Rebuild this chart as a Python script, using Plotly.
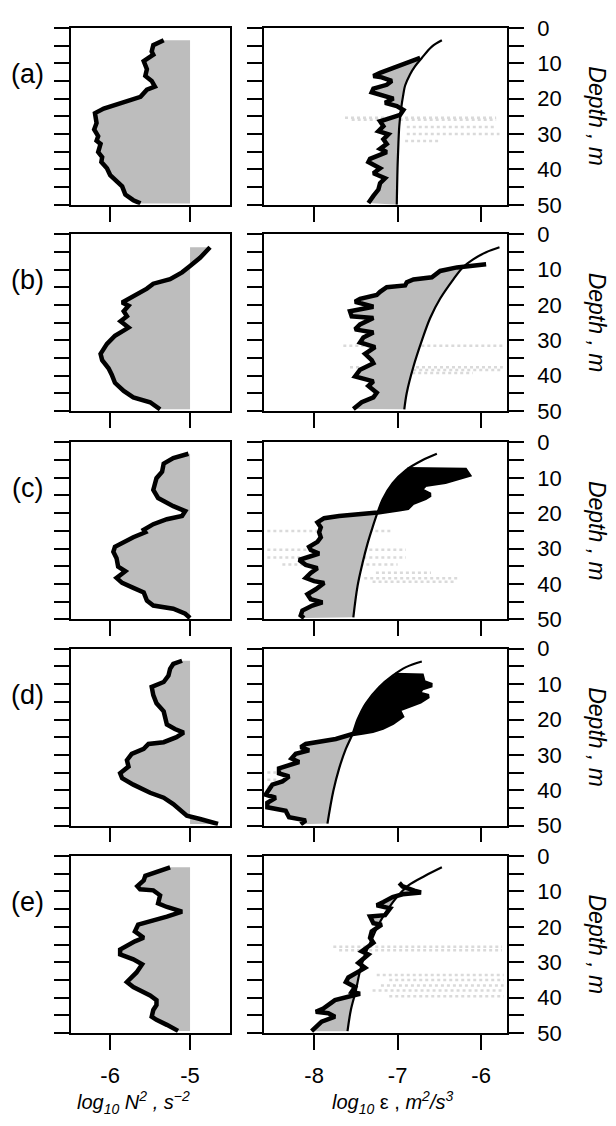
import plotly.graph_objects as go

# ---------------- data ----------------
PANEL_LABELS = ["(a)", "(b)", "(c)", "(d)", "(e)"]
N2_TICKS = [-6, -5]
N2_TICKTEXT = ["-6", "-5"]
EPS_TICKS = [-8, -7, -6]
EPS_TICKTEXT = ["-8", "-7", "-6"]
DEPTH_TICKS = [0, 5, 10, 15, 20, 25, 30, 35, 40, 45, 50]
DEPTH_TICKTEXT = ["0", "", "10", "", "20", "", "30", "", "40", "", "50"]
N2_REF = -5.0  # shading reference for log10 N^2

# log10 N^2 profiles
n2_a_depth = [3.5, 4.9, 6.7, 7.6, 9.4, 11.7, 13.6, 15.0, 16.6, 17.5, 19.5, 21.4, 22.8, 24.1, 26.9, 28.7, 30.6, 31.9,
              32.8, 35.1, 36.5, 37.9, 39.7, 41.6, 43.4, 44.8, 47.1, 48.7, 49.6]
n2_a = [-5.33, -5.46, -5.48, -5.46, -5.58, -5.54, -5.56, -5.48, -5.44, -5.54, -5.62, -5.87, -6.08, -6.19, -6.17, -6.20,
        -6.15, -6.17, -6.12, -6.15, -6.10, -6.11, -6.04, -6.00, -5.92, -5.85, -5.81, -5.71, -5.62]

n2_b_depth = [3.7, 5.3, 6.7, 9.0, 10.8, 12.7, 14.0, 15.4, 17.7, 19.3, 20.2, 21.8, 23.2, 24.6, 26.4, 28.7, 31.0, 33.8,
              35.6, 37.9, 39.7, 42.0, 44.3, 46.1, 47.5, 49.5]
n2_b = [-4.75, -4.81, -4.875, -5.0, -5.10, -5.25, -5.46, -5.54, -5.71, -5.85, -5.77, -5.83, -5.79, -5.87, -5.77, -5.94,
        -6.04, -6.12, -6.10, -6.02, -5.98, -5.94, -5.83, -5.71, -5.50, -5.375]

n2_c_depth = [3.2, 4.4, 6.0, 8.3, 10.1, 13.4, 15.7, 18.0, 19.4, 20.8, 21.7, 23.1, 24.7, 25.4, 26.8, 28.1, 29.5, 30.9,
              32.7, 35.1, 36.4, 38.3, 39.7, 41.1, 42.4, 44.7, 46.1, 47.0, 48.4, 49.6]
n2_c = [-5.02, -5.21, -5.33, -5.35, -5.42, -5.46, -5.40, -5.21, -5.06, -5.10, -5.29, -5.46, -5.58, -5.56, -5.71, -5.83,
        -5.94, -5.96, -5.92, -5.90, -5.81, -5.92, -5.85, -5.71, -5.58, -5.54, -5.46, -5.21, -5.06, -5.0]

n2_d_depth = [3.4, 4.3, 5.7, 7.6, 9.4, 10.8, 13.1, 15.4, 17.7, 21.4, 22.7, 23.7, 25.0, 26.4, 26.9, 28.3, 29.7, 31.5,
              33.3, 35.2, 36.6, 38.4, 40.7, 42.1, 43.9, 46.2, 47.2, 48.1, 49.5]
n2_d = [-5.10, -5.21, -5.25, -5.27, -5.33, -5.48, -5.46, -5.42, -5.33, -5.29, -5.19, -5.08, -5.17, -5.33, -5.52, -5.58,
        -5.73, -5.79, -5.77, -5.875, -5.85, -5.71, -5.50, -5.33, -5.21, -5.08, -5.04, -4.875, -4.65]

n2_e_depth = [3.2, 4.4, 5.6, 6.9, 8.5, 9.4, 9.7, 11.1, 13.4, 14.4, 15.7, 17.1, 18.5, 19.4, 21.3, 23.1, 24.1, 26.4,
              27.8, 29.2, 30.6, 32.9, 35.6, 37.0, 39.4, 40.7, 42.1, 43.5, 45.4, 46.3, 47.7, 49.4]
n2_e = [-5.25, -5.42, -5.56, -5.58, -5.66, -5.625, -5.46, -5.375, -5.40, -5.29, -5.10, -5.29, -5.54, -5.65, -5.69,
        -5.58, -5.69, -5.875, -5.875, -5.71, -5.60, -5.67, -5.79, -5.71, -5.50, -5.42, -5.42, -5.46, -5.48, -5.42,
        -5.29, -5.15]

# log10 epsilon profiles
eps_a_depth = [8.5, 9.9, 11.3, 12.7, 13.6, 14.0, 15.0, 16.1, 17.2, 18.2, 19.1, 20.0, 21.2, 22.1, 23.2, 24.6, 25.5,
               26.4, 27.8, 29.2, 30.1, 31.5, 32.8, 34.2, 35.1, 37.0, 37.9, 38.8, 39.7, 41.1, 42.5, 43.9, 45.7, 47.5,
               48.7, 49.5]
eps_a = [-6.73, -6.91, -7.05, -7.21, -7.29, -7.19, -7.07, -7.13, -7.29, -7.31, -7.17, -7.05, -7.15, -7.01, -6.93,
         -6.97, -7.09, -7.21, -7.17, -7.23, -7.11, -7.17, -7.13, -7.21, -7.13, -7.33, -7.35, -7.27, -7.21, -7.29,
         -7.15, -7.21, -7.23, -7.29, -7.33, -7.35]

eps_b_depth = [8.5, 9.0, 9.4, 10.4, 12.2, 12.8, 13.6, 14.5, 15.0, 16.3, 17.2, 18.3, 19.1, 20.5, 21.8, 23.2, 23.7,
               25.5, 26.9, 27.8, 29.2, 30.6, 31.9, 33.8, 35.6, 36.5, 38.3, 40.2, 41.6, 42.9, 44.8, 46.1, 47.5, 49.4]
eps_b = [-5.94, -6.18, -6.29, -6.49, -6.59, -6.81, -6.89, -6.91, -7.13, -7.21, -7.25, -7.45, -7.51, -7.29, -7.57,
         -7.55, -7.29, -7.45, -7.51, -7.29, -7.41, -7.45, -7.27, -7.39, -7.31, -7.29, -7.45, -7.51, -7.29, -7.35,
         -7.25, -7.29, -7.43, -7.53]

eps_c_depth = [7.6, 7.8, 9.2, 10.1, 11.1, 12.0, 13.4, 14.8, 15.7, 17.1, 18.5, 18.9, 19.8, 20.8, 21.4, 22.6, 24.0,
               25.4, 26.8, 28.1, 29.5, 30.4, 31.4, 32.3, 33.2, 34.6, 35.5, 36.9, 38.3, 39.2, 39.7, 41.5, 42.9, 44.3,
               45.2, 46.1, 47.5, 48.9, 49.6]
eps_c = [-6.88, -6.19, -6.15, -6.31, -6.43, -6.67, -6.73, -6.61, -6.67, -6.82, -6.88, -6.98, -7.24, -7.70, -7.88,
         -7.96, -7.92, -7.94, -7.92, -7.96, -8.06, -8.04, -7.94, -8.06, -8.18, -8.10, -7.96, -8.04, -8.10, -8.00,
         -7.88, -7.98, -8.08, -8.04, -7.90, -8.02, -8.14, -8.16, -8.12]

eps_d_depth = [7.4, 7.6, 9.4, 10.3, 11.2, 12.6, 13.4, 14.9, 15.8, 17.2, 19.1, 20.9, 22.3, 23.2, 23.7, 24.1, 25.5,
               26.9, 27.8, 28.7, 29.7, 31.0, 32.0, 32.9, 33.8, 35.2, 36.1, 37.5, 38.4, 41.2, 42.1, 43.5, 44.8, 45.8,
               47.6, 48.5, 49.6]
eps_d = [-7.03, -6.71, -6.69, -6.59, -6.71, -6.75, -6.63, -6.73, -6.83, -6.99, -6.95, -7.06, -7.18, -7.30, -7.42,
         -7.54, -7.74, -8.10, -8.16, -8.06, -8.22, -8.27, -8.18, -8.30, -8.42, -8.42, -8.30, -8.38, -8.50, -8.58,
         -8.46, -8.56, -8.56, -8.34, -8.30, -8.10, -8.16]

eps_e_depth = [7.6, 8.6, 9.8, 10.3, 10.8, 11.6, 13.0, 13.9, 14.8, 16.7, 17.1, 19.0, 19.4, 21.3, 23.1, 24.5, 26.9,
               27.8, 30.2, 31.6, 34.3, 35.6, 37.0, 38.4, 38.9, 39.8, 40.7, 43.1, 44.0, 44.4, 45.4, 46.8, 48.6, 49.5]
eps_e = [-6.98, -6.94, -6.80, -6.72, -6.94, -7.06, -7.17, -7.25, -7.09, -7.15, -7.33, -7.29, -7.19, -7.31, -7.33,
         -7.29, -7.43, -7.35, -7.47, -7.39, -7.59, -7.62, -7.51, -7.55, -7.45, -7.59, -7.75, -7.89, -7.98, -7.83,
         -7.75, -7.91, -8.00, -8.03]

# smooth reference (model) curves of log10 epsilon
fit_a_depth = [3.5, 5.3, 8.5, 10.8, 13.1, 16.3, 18.6, 23.2, 27.8, 32.4, 38.8, 50.0]
fit_a = [-6.47, -6.59, -6.71, -6.79, -6.85, -6.91, -6.93, -6.96, -6.98, -6.99, -7.00, -7.01]
fit_b_depth = [3.7, 5.1, 7.2, 9.4, 12.7, 18.2, 23.7, 30.1, 37.4, 44.8, 49.5]
fit_b = [-5.78, -5.94, -6.10, -6.22, -6.33, -6.49, -6.61, -6.71, -6.81, -6.89, -6.92]
fit_c_depth = [3.2, 5.1, 7.8, 11.5, 16.1, 19.8, 24.0, 28.6, 34.1, 40.6, 49.4]
fit_c = [-6.53, -6.71, -6.90, -7.06, -7.18, -7.24, -7.30, -7.36, -7.42, -7.48, -7.53]
fit_d_depth = [3.6, 5.2, 7.6, 10.8, 15.4, 20.0, 24.1, 28.3, 33.8, 40.2, 49.4]
fit_d = [-6.71, -6.90, -7.06, -7.22, -7.38, -7.48, -7.54, -7.62, -7.70, -7.77, -7.84]
fit_e_depth = [3.2, 5.6, 8.3, 11.1, 14.8, 19.4, 23.6, 27.8, 32.4, 38.0, 43.5, 49.5]
fit_e = [-6.47, -6.67, -6.87, -6.99, -7.11, -7.23, -7.31, -7.39, -7.45, -7.50, -7.56, -7.60]

# depth where the profile crosses the model curve (above it: profile > model, black)
cross_depth = [None, None, 19.8, 24.1, None]

# faint horizontal stipple streaks in the epsilon panels: depth, x start, x end
streak_a_depth = [25.4, 26.0, 28.0, 30.0, 32.0]
streak_a_x0 = [-7.63, -7.55, -6.89, -6.89, -6.91]
streak_a_x1 = [-5.82, -5.82, -5.82, -5.78, -6.50]
streak_b_depth = [31.5, 37.6, 38.4, 39.2]
streak_b_x0 = [-7.65, -7.57, -7.10, -7.40]
streak_b_x1 = [-5.74, -5.74, -5.74, -6.10]
streak_c_depth = [25.0, 30.3, 32.5, 34.5, 36.8, 38.4, 39.4]
streak_c_x0 = [-8.56, -8.56, -8.56, -8.38, -7.26, -7.40, -7.30]
streak_c_x1 = [-7.06, -6.90, -6.90, -7.00, -6.60, -6.25, -6.30]
streak_d_depth = [35.0, 37.0, 39.0]
streak_d_x0 = [-8.56, -8.56, -8.56]
streak_d_x1 = [-8.45, -8.45, -8.45]
streak_e_depth = [25.6, 26.6, 33.6, 35.0, 36.6, 38.0, 39.6]
streak_e_x0 = [-7.77, -7.70, -7.25, -7.10, -7.20, -7.30, -7.10]
streak_e_x1 = [-5.75, -5.75, -5.73, -5.73, -5.73, -5.73, -5.73]

# ---------------- layout constants (page pixels) ----------------
W, H = 616, 1126
OFF = 8  # page body margin
ROW_TOPS = [16, 227, 440, 651, 863]
ROW_H = 181
LEFT_PX = (71, 230)
RIGHT_PX = (264, 507)
GRAY = "#bdbdbd"
STREAK = "#dadada"
FONT = "Liberation Sans, Arial, Helvetica, sans-serif"

def fx(px):
    return (px - OFF) / W

def fy(py):
    return 1 - (py - OFF) / H

n2_depths = [n2_a_depth, n2_b_depth, n2_c_depth, n2_d_depth, n2_e_depth]
n2_vals = [n2_a, n2_b, n2_c, n2_d, n2_e]
eps_depths = [eps_a_depth, eps_b_depth, eps_c_depth, eps_d_depth, eps_e_depth]
eps_vals = [eps_a, eps_b, eps_c, eps_d, eps_e]
fit_depths = [fit_a_depth, fit_b_depth, fit_c_depth, fit_d_depth, fit_e_depth]
fit_vals = [fit_a, fit_b, fit_c, fit_d, fit_e]
streaks = [(streak_a_depth, streak_a_x0, streak_a_x1), (streak_b_depth, streak_b_x0, streak_b_x1),
           (streak_c_depth, streak_c_x0, streak_c_x1), (streak_d_depth, streak_d_x0, streak_d_x1),
           (streak_e_depth, streak_e_x0, streak_e_x1)]

fig = go.Figure()
layout = {}
annotations = []

def sfx(k):
    return "" if k == 1 else str(k)

for i in range(5):
    top = ROW_TOPS[i]
    ydom = [fy(top + ROW_H), fy(top)]
    lk, rk = 2 * i + 1, 2 * i + 2
    last = (i == 4)

    axis_common = dict(showgrid=False, zeroline=False, linecolor="black", linewidth=1.5,
                       ticks="outside", ticklen=15, tickwidth=1.5, tickcolor="black",
                       tickfont=dict(family=FONT, size=22, color="black"))

    layout["xaxis" + sfx(lk)] = dict(axis_common, domain=[fx(LEFT_PX[0]), fx(LEFT_PX[1])], anchor="y" + sfx(lk),
                                     range=[-6.49, -4.5], tickvals=N2_TICKS, ticktext=N2_TICKTEXT,
                                     showticklabels=last, ticklabelstandoff=7, mirror=True)
    layout["yaxis" + sfx(lk)] = dict(axis_common, domain=ydom, anchor="x" + sfx(lk), range=[50, 0],
                                     tickvals=DEPTH_TICKS, showticklabels=False, mirror=True)
    layout["xaxis" + sfx(rk)] = dict(axis_common, domain=[fx(RIGHT_PX[0]), fx(RIGHT_PX[1])], anchor="y" + sfx(rk),
                                     range=[-8.6, -5.69], tickvals=EPS_TICKS, ticktext=EPS_TICKTEXT,
                                     showticklabels=last, ticklabelstandoff=7, mirror=True)
    layout["yaxis" + sfx(rk)] = dict(axis_common, domain=ydom, anchor="x" + sfx(rk), range=[50, 0],
                                     side="right", tickvals=DEPTH_TICKS, ticktext=DEPTH_TICKTEXT,
                                     showticklabels=True, mirror="allticks", ticklabelstandoff=9)
    xl, yl = "x" + sfx(lk), "y" + sfx(lk)
    xr, yr = "x" + sfx(rk), "y" + sfx(rk)

    # ---- left: N^2 ----
    d, v = n2_depths[i], n2_vals[i]
    fig.add_trace(go.Scatter(x=v + [N2_REF, N2_REF], y=d + [d[-1], d[0]], fill="toself", fillcolor=GRAY,
                             mode="lines", line=dict(width=0), hoverinfo="skip", xaxis=xl, yaxis=yl))
    fig.add_trace(go.Scatter(x=v, y=d, mode="lines", line=dict(color="black", width=4.5), xaxis=xl, yaxis=yl))

    # ---- right: epsilon ----
    sd, s0, s1 = streaks[i]
    for k in range(len(sd)):
        fig.add_trace(go.Scatter(x=[s0[k], s1[k]], y=[sd[k], sd[k]], mode="lines",
                                 line=dict(color=STREAK, width=2.5, dash="dot"), hoverinfo="skip",
                                 xaxis=xr, yaxis=yr))
    ed, ev = eps_depths[i], eps_vals[i]
    fd, fv = fit_depths[i], fit_vals[i]
    cd = cross_depth[i]
    if cd is None:
        sel = [(a, b) for a, b in zip(fd, fv) if a >= ed[0]]
        fig.add_trace(go.Scatter(x=ev + [b for a, b in reversed(sel)], y=ed + [a for a, b in reversed(sel)],
                                 fill="toself", fillcolor=GRAY, mode="lines", line=dict(width=0),
                                 hoverinfo="skip", xaxis=xr, yaxis=yr))
    else:
        up = [(a, b) for a, b in zip(ed, ev) if a <= cd]
        lo = [(a, b) for a, b in zip(ed, ev) if a >= cd]
        fup = [(a, b) for a, b in zip(fd, fv) if ed[0] <= a <= cd]
        flo = [(a, b) for a, b in zip(fd, fv) if a >= cd]
        fig.add_trace(go.Scatter(x=[b for a, b in up] + [b for a, b in reversed(fup)],
                                 y=[a for a, b in up] + [a for a, b in reversed(fup)],
                                 fill="toself", fillcolor="black", mode="lines", line=dict(width=0),
                                 hoverinfo="skip", xaxis=xr, yaxis=yr))
        fig.add_trace(go.Scatter(x=[b for a, b in lo] + [b for a, b in reversed(flo)],
                                 y=[a for a, b in lo] + [a for a, b in reversed(flo)],
                                 fill="toself", fillcolor=GRAY, mode="lines", line=dict(width=0),
                                 hoverinfo="skip", xaxis=xr, yaxis=yr))
    fig.add_trace(go.Scatter(x=fv, y=fd, mode="lines", line=dict(color="black", width=2.2, shape="spline"),
                             xaxis=xr, yaxis=yr))
    fig.add_trace(go.Scatter(x=ev, y=ed, mode="lines", line=dict(color="black", width=4.5), xaxis=xr, yaxis=yr))

    # panel label and depth title
    annotations.append(dict(text=PANEL_LABELS[i], x=fx(28), y=fy(top + 47), xref="paper", yref="paper",
                            showarrow=False, xanchor="center", yanchor="middle",
                            font=dict(family=FONT, size=27, color="black")))
    annotations.append(dict(text="<i>Depth , m</i>", x=fx(597), y=fy(top + ROW_H / 2), xref="paper",
                            yref="paper", showarrow=False, textangle=90, xanchor="center", yanchor="middle",
                            font=dict(family=FONT, size=23, color="black")))

annotations.append(dict(text="<i>log<sub>10</sub> N<sup>2</sup> , s<sup>−2</sup></i>", x=fx(133), y=fy(1115),
                        xref="paper", yref="paper", showarrow=False, xanchor="center", yanchor="middle",
                        font=dict(family=FONT, size=20, color="black")))
annotations.append(dict(text="<i>log<sub>10</sub></i> ε , <i>m<sup>2</sup>/s<sup>3</sup></i>", x=fx(392),
                        y=fy(1115), xref="paper", yref="paper", showarrow=False, xanchor="center",
                        yanchor="middle", font=dict(family=FONT, size=20, color="black")))

fig.update_layout(width=W, height=H, margin=dict(l=0, r=0, t=0, b=0), paper_bgcolor="white",
                  plot_bgcolor="white", showlegend=False, annotations=annotations, **layout)
fig.write_html("out.html")
